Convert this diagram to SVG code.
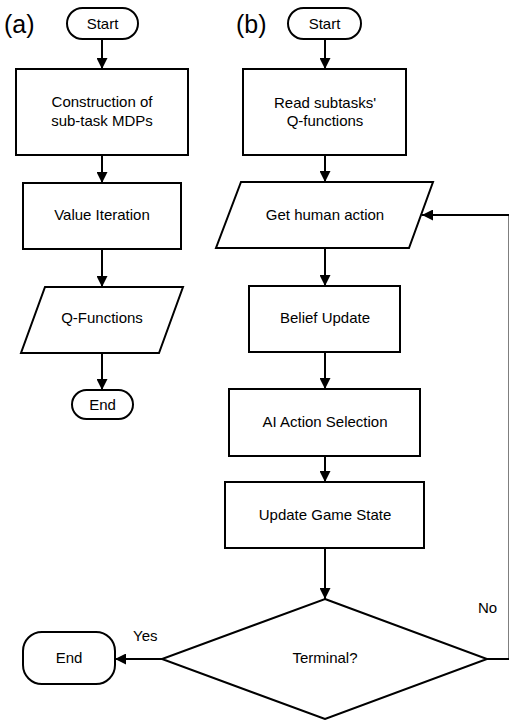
<svg xmlns="http://www.w3.org/2000/svg" width="509" height="720" viewBox="0 0 509 720">
<style>
.s{fill:#fff;stroke:#000;stroke-width:2}
.c{fill:none;stroke:#000;stroke-width:2}
text{font-family:"Liberation Sans",Arial,sans-serif;font-size:15px;fill:#000;text-anchor:middle}
.lbl{font-size:25px;text-anchor:start}
.pl{text-anchor:start}
</style>
<defs>
<marker id="ah" viewBox="0 0 11 11" refX="11" refY="5.5" markerWidth="11" markerHeight="11" markerUnits="userSpaceOnUse" orient="auto">
<path d="M0,0 L11,5.5 L0,11 z" fill="#000"/>
</marker>
</defs>
<rect width="509" height="720" fill="#fff"/>
<text class="lbl" x="4" y="33">(a)</text>
<text class="lbl" x="236" y="33">(b)</text>
<g id="connectors">
<line class="c" x1="102" y1="39" x2="102" y2="69" marker-end="url(#ah)"/>
<line class="c" x1="102" y1="155" x2="102" y2="183" marker-end="url(#ah)"/>
<line class="c" x1="102" y1="249" x2="102" y2="287" marker-end="url(#ah)"/>
<line class="c" x1="102" y1="353" x2="102" y2="390" marker-end="url(#ah)"/>
<line class="c" x1="325" y1="39" x2="325" y2="69" marker-end="url(#ah)"/>
<line class="c" x1="325" y1="155" x2="325" y2="182" marker-end="url(#ah)"/>
<line class="c" x1="325" y1="248" x2="325" y2="286" marker-end="url(#ah)"/>
<line class="c" x1="325" y1="352" x2="325" y2="389" marker-end="url(#ah)"/>
<line class="c" x1="325" y1="456" x2="325" y2="482" marker-end="url(#ah)"/>
<line class="c" x1="325" y1="548" x2="325" y2="599" marker-end="url(#ah)"/>
<line class="c" x1="162" y1="659" x2="115" y2="659" marker-end="url(#ah)"/>
<polyline class="c" points="487,659 509.5,659 509.5,215 422,215" marker-end="url(#ah)"/>
<text class="pl" x="133" y="641">Yes</text>
<text class="pl" x="478" y="613">No</text>
</g>
<g id="a_start"><rect class="s" x="67" y="8" width="71" height="31" rx="15.5"/><text x="102.5" y="29">Start</text></g>
<g id="a_construct"><rect class="s" x="16" y="69" width="172" height="86"/><text x="102" y="107">Construction of</text><text x="102" y="126">sub-task MDPs</text></g>
<g id="a_vi"><rect class="s" x="23" y="183" width="158" height="66"/><text x="102" y="220">Value Iteration</text></g>
<g id="a_q"><polygon class="s" points="45,287 183,287 159,353 21,353"/><text x="102" y="323">Q-Functions</text></g>
<g id="a_end"><rect class="s" x="72" y="390" width="61" height="29" rx="14.5"/><text x="102.5" y="410">End</text></g>
<g id="b_start"><rect class="s" x="288" y="8" width="73" height="31" rx="15.5"/><text x="324.5" y="29">Start</text></g>
<g id="b_read"><rect class="s" x="243" y="69" width="163" height="86"/><text x="325" y="108">Read subtasks'</text><text x="325" y="126">Q-functions</text></g>
<g id="b_get"><polygon class="s" points="241,182 433,182 409,248 216,248"/><text x="325" y="220">Get human action</text></g>
<g id="b_belief"><rect class="s" x="249" y="286" width="151" height="66"/><text x="325" y="323">Belief Update</text></g>
<g id="b_ai"><rect class="s" x="229" y="389" width="191" height="67"/><text x="325" y="427">AI Action Selection</text></g>
<g id="b_update"><rect class="s" x="225" y="482" width="199" height="66"/><text x="325" y="520">Update Game State</text></g>
<g id="b_term"><polygon class="s" points="325,599 487,659 325,719 162,659"/><text x="325" y="663">Terminal?</text></g>
<g id="b_end"><rect class="s" x="23" y="632" width="92" height="52" rx="19"/><text x="69" y="663">End</text></g>
</svg>
